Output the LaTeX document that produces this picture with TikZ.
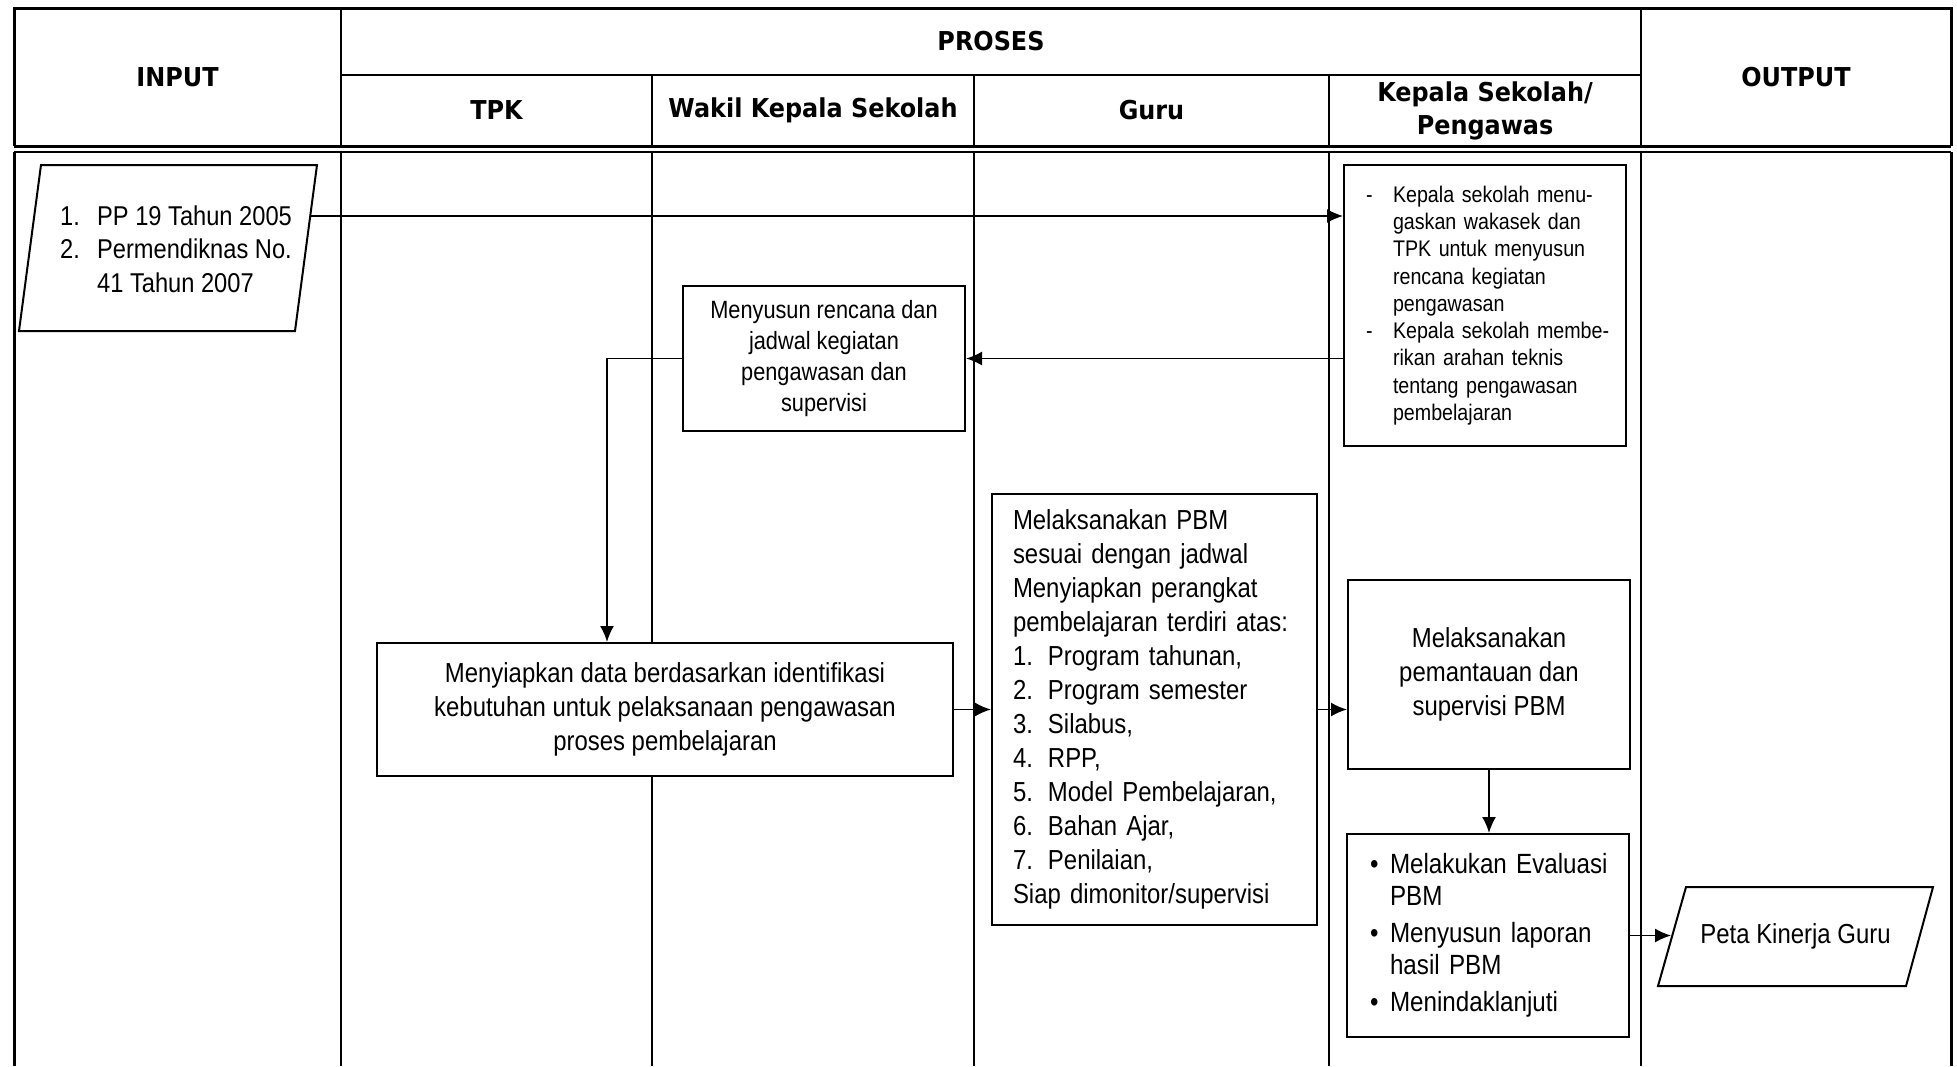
\documentclass[tikz,border=0pt]{standalone}
\usepackage{fontspec}
\setmainfont{Liberation Sans}[FakeStretch=0.87]
\newfontfamily\hdrfont{DejaVu Sans}[FakeStretch=0.92]
\usetikzlibrary{arrows.meta,calc}
\tikzset{
  tbl/.style={line width=1pt},
  tblout/.style={line width=1.5pt},
  hdr/.style={font=\hdrfont\bfseries\fontsize{13}{16.5}\selectfont, align=center, inner sep=0pt},
  box/.style={draw, line width=1pt, fill=white, inner sep=0pt},
  bodyfont/.style={font=\fontsize{13.75}{17}\selectfont},
  conn/.style={line width=0.9pt, -{Latex[length=8pt,width=7pt]}},
  paraline/.style={draw, line width=1pt, fill=white},
  parabody/.style={inner sep=0pt},
}
\begin{document}
\begin{tikzpicture}[x=0.5pt,y=-0.5pt]
\useasboundingbox (0,0) rectangle (1957,1066);
% ---- table frame
\draw[tblout] (14,146) -- (14,8) -- (1951,8) -- (1951,146);
\draw[tblout] (14,152) -- (14,1066);
\draw[tblout] (1951,152) -- (1951,1066);
\draw[line width=1.5pt] (14,146) -- (1951,146);
\draw[tbl] (14,152) -- (1951,152);
\draw[tbl] (341,75) -- (1641,75);
\draw[tbl] (341,8) -- (341,146);
\draw[tbl] (1641,8) -- (1641,146);
\foreach \xx in {652,974,1329} { \draw[tbl] (\xx,75) -- (\xx,146); }
\foreach \xx in {341,652,974,1329,1641} { \draw[tbl] (\xx,152) -- (\xx,1066); }
% ---- headers
\node[hdr] (hin) at (177.5,77) {INPUT};
\node[hdr] (hpr) at (991,41.5) {PROSES};
\node[hdr] (htpk) at (496.5,110.5) {TPK};
\node[hdr] (hwak) at (813,110.5) {Wakil Kepala Sekolah};
\node[hdr] (hguru) at (1151.5,110.5) {Guru};
\node[hdr] (hkep) at (1485,110.5) {Kepala Sekolah/\\Pengawas};
\node[hdr] (hout) at (1796,77) {OUTPUT};
% ---- input parallelogram
\path[paraline] (19,331) -- (41,165) -- (317,165) -- (295,331) -- cycle;
\node[parabody, minimum width=131.75pt, minimum height=83pt, align=left, font=\fontsize{13.6}{16.85}\selectfont] (inp) at (176,249)
  {\makebox[18.5pt][l]{1.}PP 19 Tahun 2005\\ \makebox[18.5pt][l]{2.}Permendiknas No.\\ \hspace*{18.5pt}41 Tahun 2007};
\coordinate (inpR) at (310,216);

\node[box, text width=127pt, align=left, minimum width=141pt, minimum height=140.5pt, font=\fontsize{11.3}{13.65}\selectfont] (kep1) at (1485,305.5)
  {\makebox[17.5pt][l]{\hspace*{4pt}-}Kepala sekolah menu-\\
   \hspace*{17.5pt}gaskan wakasek dan\\
   \hspace*{17.5pt}TPK untuk menyusun\\
   \hspace*{17.5pt}rencana kegiatan\\
   \hspace*{17.5pt}pengawasan\\
   \makebox[17.5pt][l]{\hspace*{4pt}-}Kepala sekolah membe-\\
   \hspace*{17.5pt}rikan arahan teknis\\
   \hspace*{17.5pt}tentang pengawasan\\
   \hspace*{17.5pt}pembelajaran};

\node[box, align=center, minimum width=141pt, minimum height=72.5pt, font=\fontsize{12.5}{15.6}\selectfont] (wak) at (824,358.5)
  {Menyusun rencana dan\\jadwal kegiatan\\pengawasan dan\\supervisi};

\node[box, bodyfont, align=center, minimum width=288pt, minimum height=66.5pt] (tpk) at (665,709.5)
  {Menyiapkan data berdasarkan identifikasi\\kebutuhan untuk pelaksanaan pengawasan\\proses pembelajaran};

\node[box, bodyfont, text width=141.5pt, align=left, minimum width=162.5pt, minimum height=215.5pt] (guru) at (1154.5,709.5)
  {Melaksanakan PBM\\
   sesuai dengan jadwal\\
   Menyiapkan perangkat\\
   pembelajaran terdiri atas:\\
   \makebox[17.5pt][l]{1.}Program tahunan,\\
   \makebox[17.5pt][l]{2.}Program semester\\
   \makebox[17.5pt][l]{3.}Silabus,\\
   \makebox[17.5pt][l]{4.}RPP,\\
   \makebox[17.5pt][l]{5.}Model Pembelajaran,\\
   \makebox[17.5pt][l]{6.}Bahan Ajar,\\
   \makebox[17.5pt][l]{7.}Penilaian,\\
   Siap dimonitor/supervisi};

\node[box, bodyfont, align=center, minimum width=141pt, minimum height=94.5pt] (kep2) at (1489,674.5)
  {Melaksanakan\\pemantauan dan\\supervisi PBM};

\node[box, text width=125pt, align=left, minimum width=141pt, minimum height=101.5pt, font=\fontsize{13.9}{16}\selectfont] (kep3) at (1488,935.5)
  {\makebox[13.5pt][l]{\hspace*{3.5pt}•}Melakukan Evaluasi\\
   \hspace*{13.5pt}PBM\\[2.5pt]
   \makebox[13.5pt][l]{\hspace*{3.5pt}•}Menyusun laporan\\
   \hspace*{13.5pt}hasil PBM\\[2.5pt]
   \makebox[13.5pt][l]{\hspace*{3.5pt}•}Menindaklanjuti};

% ---- output parallelogram
\path[paraline] (1658,986) -- (1686,887) -- (1933,887) -- (1906,986) -- cycle;
\node[parabody, bodyfont, minimum width=124pt, minimum height=49.5pt] (out) at (1795.5,936.5) {Peta Kinerja Guru};

% ---- connectors
\coordinate (bend) at (607,358.5);
\draw[conn] (inpR) -- (inpR -| kep1.west);
\draw[conn] (kep1.west |- wak.east) -- (wak.east);
\draw[conn] (wak.west) -- (bend) -- (bend |- tpk.north);
\draw[conn] (tpk.east) -- (tpk.east -| guru.west);
\draw[conn] (guru.east) -- (guru.east -| kep2.west);
\draw[conn] (kep2.south) -- (kep2.south |- kep3.north);
\draw[conn] (kep3.east) -- (kep3.east -| out.west);
\end{tikzpicture}
\end{document}
